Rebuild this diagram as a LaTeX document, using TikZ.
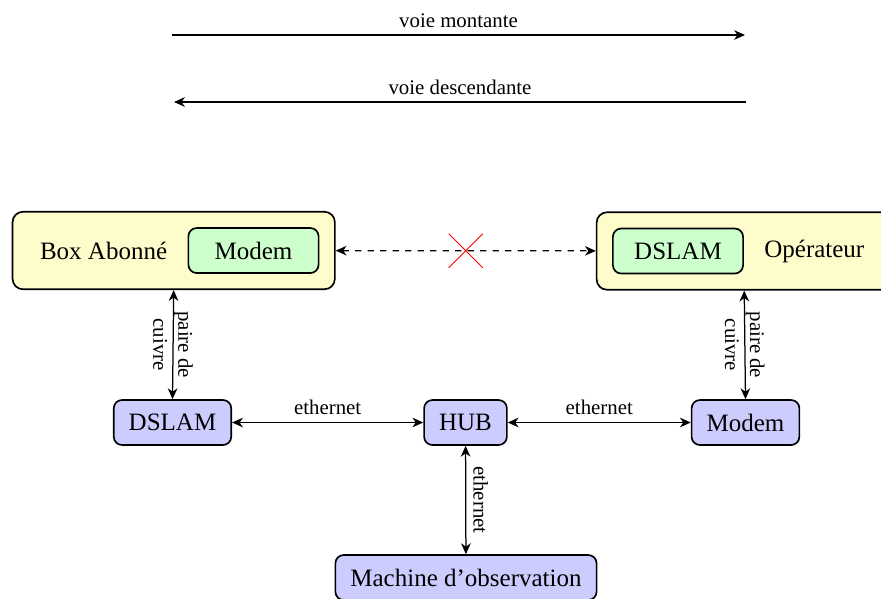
\documentclass[tikz,border=0pt]{standalone}
\usepackage{fontspec}
\setmainfont{Liberation Serif}
\usetikzlibrary{positioning,fit,backgrounds,shapes.misc,arrows.meta}

\tikzset{
  device/.style={draw,thick,rounded corners=4pt,fill=blue!20,font=\large,
    inner xsep=7.2pt,minimum height=21.6pt},
  inside/.style={device,fill=green!20,minimum width=62.5pt},
  outside/.style={draw,thick,rounded corners=5pt,fill=yellow!20,inner sep=7.4pt},
  tag/.style={font=\large,inner xsep=5.6pt},
  tip/.style={Stealth[length=5.2pt,width=4.6pt,inset=1.6pt]},
  link/.style={semithick,{Stealth[length=5.2pt,width=4.6pt,inset=1.6pt]}-{Stealth[length=5.2pt,width=4.6pt,inset=1.6pt]}},
  oneway/.style={semithick,-{Stealth[length=5.2pt,width=4.6pt,inset=1.6pt]}}
}

\begin{document}
\begin{tikzpicture}[x=0.48pt,y=-0.48pt]
\useasboundingbox (0,0) rectangle (881,598);

% sens des voies
\coordinate (mont1) at (172,35);
\coordinate (mont2) at (745,35);
\coordinate (desc1) at (746,102);
\coordinate (desc2) at (174,102);
\draw[oneway] (mont1) -- node[above](montante){voie montante} (mont2);
\draw[oneway] (desc1) -- node[above](descendante){voie descendante} (desc2);

% box abonne et operateur
\node[inside] (modem1) at (253.5,250.5) {Modem};
\node[tag, left=4pt of modem1] (abonne) {Box Abonné};
\node[inside] (dslam1) at (678,251) {DSLAM};
\node[tag, right=4pt of dslam1] (operateur) {Opérateur};
\begin{scope}[on background layer]
\node[outside, fit=(abonne)(modem1)] (box) {};
\node[outside, fit=(dslam1)(operateur)] (op) {};
\end{scope}

% montage
\node[device] (dslam) at (172.5,422.5) {DSLAM};
\node[device] (hub) at (465.5,422.5) {HUB};
\node[device] (modem) at (745.5,422.5) {Modem};
\node[device] (machine) at (466,577.5) {Machine d'observation};

\draw[link,dashed] (box) -- node[solid,thin,draw=red,cross out,minimum size=16pt,inner sep=0pt](croix){} (op);
\draw[link] (box.south) -- node[rotate=-90,align=center](cuivre1){paire de\\cuivre} (dslam.north);
\draw[link] (op.south) -- node[rotate=-90,align=center](cuivre2){paire de\\cuivre} (modem.north);
\draw[link] (dslam) -- node[above](eth1){ethernet} (hub);
\draw[link] (hub) -- node[above](eth2){ethernet} (modem);
\draw[link] (hub) -- node[rotate=-90,above](eth3){ethernet} (machine);
\end{tikzpicture}
\end{document}
